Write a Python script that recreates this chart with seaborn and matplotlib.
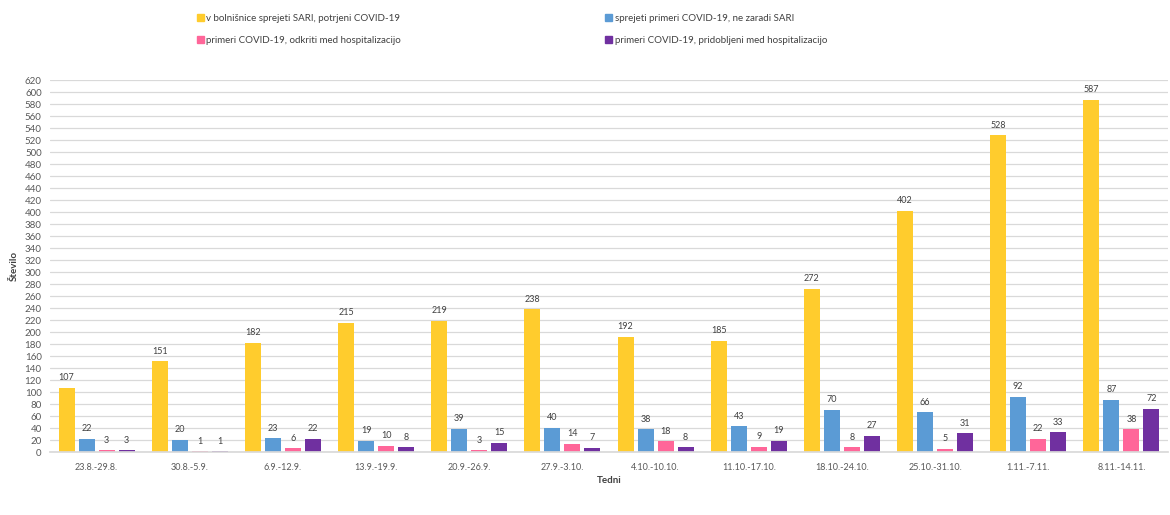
import matplotlib
matplotlib.use("Agg")
import matplotlib.pyplot as plt
import seaborn as sns
import pandas as pd
from matplotlib.patches import Patch

weeks = ["23.8.-29.8.", "30.8.-5.9.", "6.9.-12.9.", "13.9.-19.9.", "20.9.-26.9.",
         "27.9.-3.10.", "4.10.-10.10.", "11.10.-17.10.", "18.10.-24.10.",
         "25.10.-31.10.", "1.11.-7.11.", "8.11.-14.11."]
sari_covid = [107, 151, 182, 215, 219, 238, 192, 185, 272, 402, 528, 587]
covid_no_sari = [22, 20, 23, 19, 39, 40, 38, 43, 70, 66, 92, 87]
covid_detected = [3, 1, 6, 10, 3, 14, 18, 9, 8, 5, 22, 38]
covid_acquired = [3, 1, 22, 8, 15, 7, 8, 19, 27, 31, 33, 72]

series_names = ["v bolnišnice sprejeti SARI, potrjeni COVID-19",
                "sprejeti primeri COVID-19, ne zaradi SARI",
                "primeri COVID-19, odkriti med hospitalizacijo",
                "primeri COVID-19, pridobljeni med hospitalizacijo"]
colors = ["#FFCC2D", "#5B9BD5", "#FF6699", "#7030A0"]

rows = []
for name, vals in zip(series_names, [sari_covid, covid_no_sari, covid_detected, covid_acquired]):
    for w, v in zip(weeks, vals):
        rows.append({"Tedni": w, "Število": v, "serija": name})
df = pd.DataFrame(rows)

sns.set_theme(style="white")
plt.rcParams["font.family"] = ["Lato", "DejaVu Sans"]

fig = plt.figure(figsize=(11.7, 5.15), dpi=100)
ax = fig.add_axes([50 / 1170, 1 - 452 / 515, 1118 / 1170, (452 - 80) / 515])

sns.barplot(data=df, x="Tedni", y="Število", hue="serija", order=weeks,
            hue_order=series_names, palette=colors, width=0.86, gap=0.2,
            linewidth=0, saturation=1, ax=ax, legend=False)

for cont in ax.containers:
    ax.bar_label(cont, padding=4, fontsize=6.5, color="#404040")

ax.set_ylim(0, 620)
ax.set_yticks(range(0, 621, 20))
ax.yaxis.grid(True, color="#D9D9D9", linewidth=0.9)
ax.set_axisbelow(True)
for s in ["top", "right", "left"]:
    ax.spines[s].set_visible(False)
ax.spines["bottom"].set_color("#D9D9D9")
ax.tick_params(axis="x", labelsize=6.5, colors="#595959", length=0, pad=8)
ax.tick_params(axis="y", labelsize=7, colors="#595959", length=0, pad=6)
ax.set_xlim(-0.5, len(weeks) - 0.5)
ax.set_xlabel("Tedni", fontsize=7, fontweight="bold", color="#404040", labelpad=3)
ax.set_ylabel("Število", fontsize=7, fontweight="bold", color="#404040", labelpad=4)

handles = [Patch(color=c) for c in colors]
order = [0, 2, 1, 3]
fig.legend([handles[i] for i in order], [series_names[i] for i in order],
           loc="upper left", bbox_to_anchor=(188 / 1170, 1 - 5 / 515), ncol=2,
           frameon=False, fontsize=7, handlelength=0.7, handleheight=0.7,
           handletextpad=0.3, columnspacing=21, labelspacing=1.35,
           labelcolor="#404040")

fig.savefig("out.png", dpi=100)
